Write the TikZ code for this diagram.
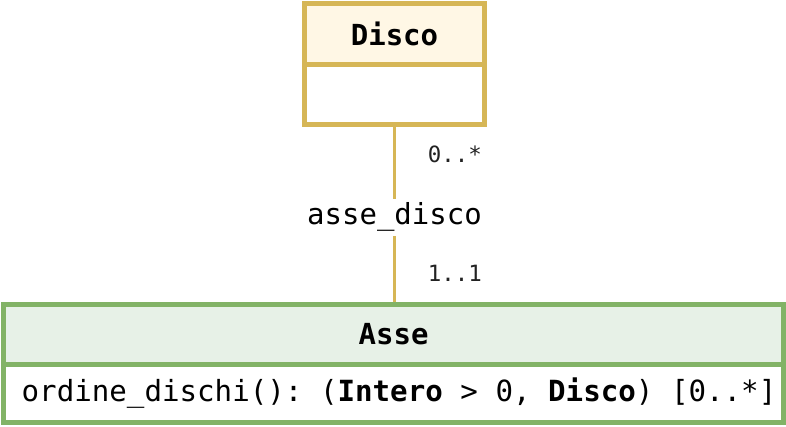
\documentclass[tikz,border=0pt]{standalone}
\usepackage{fontspec}
\setmonofont{DejaVu Sans Mono}
\usetikzlibrary{calc}
\definecolor{discoline}{HTML}{D6B656}
\definecolor{discofill}{HTML}{FFF7E5}
\definecolor{asseline}{HTML}{82B366}
\definecolor{assefill}{HTML}{E7F1E7}
\definecolor{multtext}{HTML}{222222}

\begin{document}
\begin{tikzpicture}[x=1pt, y=-1pt,
  classbox/.style={draw, line width=5pt, inner sep=0pt,
    font=\ttfamily\fontsize{29}{34}\selectfont},
  classname/.style={classbox, font=\ttfamily\bfseries\fontsize{29}{34}\selectfont},
  assoc/.style={draw=discoline, line width=2.5pt},
  mult/.style={inner sep=0pt, anchor=east, text=multtext,
    font=\ttfamily\fontsize{22.4}{26}\selectfont}]
\useasboundingbox (0,0) rectangle (786,426);

% Disco
\node[classname, draw=discoline, fill=discofill,
      minimum width=180pt, minimum height=60.2pt] (discotop) at (394.5,33.9) {Disco};
\node[classbox, draw=discoline, fill=white,
      minimum width=180pt, minimum height=60.5pt] (discobody) at (394.5,94.25) {};

% Asse
\node[classname, draw=asseline, fill=assefill,
      minimum width=779.7pt, minimum height=59.5pt] (assetop) at (393.65,334.25) {Asse};
\node[classbox, draw=asseline, fill=white,
      minimum width=779.7pt, minimum height=58pt] (assebody) at (393.65,393) {};
\node[inner sep=0pt, anchor=west, font=\ttfamily\fontsize{29.15}{34}\selectfont]
      (assemeth) at (21.5,393) {ordine\_dischi(): (\textbf{Intero} > 0, \textbf{Disco}) [0..*]};

% association
\draw[assoc] (discobody.south) -- (discobody.south |- assetop.north)
  node[midway, yshift=-2.5pt, fill=white, inner sep=0pt, minimum height=37pt, text=black,
       font=\ttfamily\fontsize{29}{34}\selectfont] (assocname) {asse\_disco};
\node[mult] (multdisco) at (482,154) {0..*};
\node[mult] (multasse) at (482,273) {1..1};
\end{tikzpicture}
\end{document}
